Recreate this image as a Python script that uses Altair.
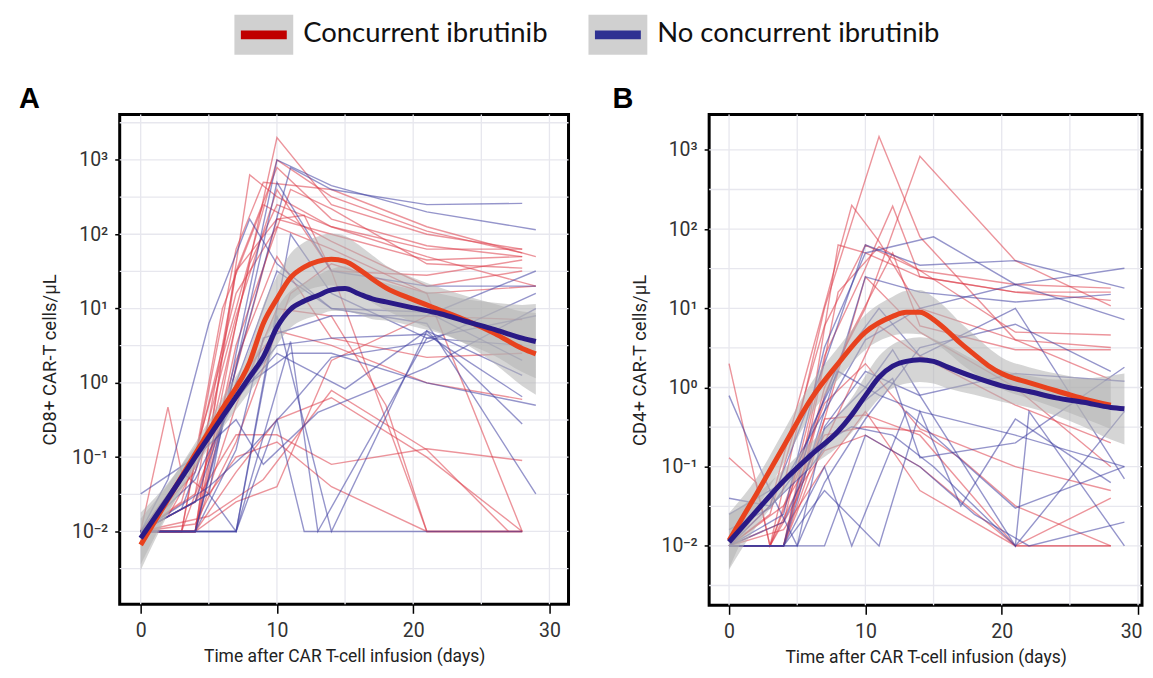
import altair as alt
import pandas as pd

GROUPS = ["Concurrent ibrutinib", "No concurrent ibrutinib"]
PANEL_LABELS = ["A", "B"]
LEGEND_COLORS = ["#c00000", "#2e3192"]
THIN_COLORS = ["#dc3c48", "#3e3ea0"]
SMOOTH_COLORS = ["#e8421e", "#2a1a86"]

X_TICKS = [0, 10, 20, 30]
X_GRID = [0, 5, 10, 15, 20, 25, 30]
Y_TICK_EXP = [-2, -1, 0, 1, 2, 3]
Y_GRID_EXP = [-2.5, -2, -1.5, -1, -0.5, 0, 0.5, 1, 1.5, 2, 2.5, 3, 3.5]

X_TITLE = "Time after CAR T-cell infusion (days)"
Y_TITLE_A = "CD8+ CAR-T cells/\u03bcL"
Y_TITLE_B = "CD4+ CAR-T cells/\u03bcL"

A_RED_LINES = [
    ([0, 4, 7, 10, 14, 21, 28], [0.01, 0.01, 6.3, 2000, 250, 100, 63]),
    ([0, 3, 7, 10, 14, 21, 28], [0.01, 0.025, 10, 1000, 320, 110, 56]),
    ([0, 4, 7, 10, 14, 21, 28], [0.01, 0.032, 32, 790, 160, 70, 50]),
    ([0, 4, 7, 11, 14, 21, 28], [0.01, 0.01, 3.2, 400, 220, 40, 35]),
    ([0, 3, 7, 9, 14, 21, 29], [0.01, 0.01, 63, 500, 400, 126, 50]),
    ([0, 4, 7, 10, 14, 21, 29], [0.01, 0.1, 16, 126, 63, 16, 20]),
    ([0, 4, 6, 10, 12, 14, 21, 28], [0.01, 0.01, 0.32, 160, 180, 32, 28, 45]),
    ([0, 2, 5, 8, 10, 14, 21, 28], [0.01, 0.016, 0.16, 40, 250, 126, 63, 63]),
    ([0, 4, 7, 10, 14, 21, 28], [0.01, 0.025, 0.2, 0.2, 0.08, 0.13, 0.09]),
    ([0, 4, 7, 10, 14, 21, 28], [0.01, 0.063, 7.9, 400, 32, 0.01, 0.01]),
    ([0, 4, 7, 10, 14, 18, 21, 28], [0.01, 0.01, 0.5, 10, 7.9, 0.5, 0.01, 0.01]),
    ([0, 2, 3, 5, 7, 10, 14, 21, 28], [0.01, 0.47, 0.063, 0.032, 0.1, 0.16, 0.04, 0.01, 0.01]),
    ([0, 4, 7, 10, 14, 21, 28], [0.01, 0.01, 0.025, 0.04, 2.0, 7.9, 7.1]),
    ([0, 4, 7, 11, 14, 21, 28], [0.01, 0.0126, 0.16, 16, 40, 16, 0.01]),
    ([0, 3, 6, 9, 14, 21, 28], [0.01, 0.01, 10, 250, 80, 20, 32]),
    ([0, 4, 8, 10, 14, 21, 29], [0.01, 0.01, 630, 320, 126, 50, 20]),
    ([0, 4, 7, 10, 14, 21, 28], [0.01, 0.025, 2.0, 50, 4, 2.2, 2.5]),
    ([0, 4, 7, 10, 14, 21, 28], [0.01, 0.01, 0.063, 0.32, 0.63, 0.1, 0.01]),
    ([0, 5, 9, 14, 21, 27], [0.01, 0.016, 0.05, 0.79, 0.126, 0.01]),
    ([0, 4, 7, 10, 14, 21, 28], [0.01, 0.01, 32, 160, 100, 45, 50]),
    ([0, 3, 7, 10, 14, 21, 28], [0.01, 0.01, 1.0, 5.0, 3.2, 1.0, 0.6]),
]
A_BLUE_LINES = [
    ([0, 5, 7, 10, 14, 21, 29], [0.01, 0.032, 2.5, 1000, 450, 200, 115]),
    ([0, 4, 7, 11, 14, 21, 28], [0.01, 0.01, 1.6, 790, 400, 250, 260]),
    ([0, 2, 5, 8, 10, 14, 21, 28], [0.01, 0.05, 6.3, 160, 40, 10, 9, 2]),
    ([0, 4, 7, 11, 13, 21, 29], [0.01, 0.01, 0.01, 3.6, 0.01, 4, 8]),
    ([0, 5, 7, 10, 14, 21, 28], [0.01, 0.032, 0.01, 8, 0.01, 5, 0.28]),
    ([0, 4, 7, 10, 15, 21, 28], [0.01, 0.05, 0.63, 2.5, 0.83, 5, 1.26]),
    ([0, 3, 7, 10, 12, 21, 28], [0.01, 0.01, 0.01, 0.32, 0.01, 0.01, 0.01]),
    ([0, 4, 7, 10, 14, 21, 29], [0.01, 0.025, 1.0, 32, 10, 6.3, 0.032]),
    ([0, 4, 7, 10, 14, 21, 28], [0.032, 0.1, 0.63, 3.2, 4, 4.5, 0.65]),
    ([0, 4, 6, 10, 14, 21, 29], [0.01, 0.01, 0.25, 500, 32, 20, 20]),
    ([0, 4, 7, 9, 13, 21, 29], [0.01, 0.1, 0.32, 0.08, 0.4, 1.6, 10]),
    ([0, 5, 8, 11, 14, 21, 29], [0.01, 0.04, 0.126, 0.5, 2.2, 3.5, 16]),
    ([0, 4, 7, 9, 14, 21, 29], [0.01, 0.01, 0.126, 4, 8, 8, 32]),
    ([0, 4, 7, 11, 14, 21, 28], [0.01, 0.01, 0.01, 100, 16, 4, 3.2]),
    ([0, 3, 5, 8, 11, 14, 21, 29], [0.01, 0.02, 0.2, 1, 2.5, 2.5, 1.0, 0.5]),
]

A_RED_DAYS = [0, 2, 4, 6, 8, 9, 10, 11, 12, 13, 14, 15, 16, 17, 18, 20, 22, 24, 26, 28, 29]
A_RED_MID = [0.0066, 0.027, 0.11, 0.45, 1.9, 6.3, 13.5, 26, 36, 43, 46, 43, 34, 25, 19, 13.2, 9.5, 6.8, 4.6, 2.9, 2.45]
A_RED_LO = [0.003, 0.017, 0.078, 0.32, 1.17, 3.5, 6.8, 12.6, 17, 19.5, 20.4, 19, 15.8, 12, 9.5, 6.6, 4.8, 3.2, 1.8, 0.91, 0.69]
A_RED_HI = [0.015, 0.043, 0.155, 0.63, 2.95, 11.2, 27, 55, 78, 93, 102, 95, 72, 52, 38, 26, 19, 14.5, 11.5, 9.1, 8.7]
A_BLUE_DAYS = [0, 2, 4, 6, 8, 9, 10, 11, 12, 13, 14, 15, 16, 17, 18, 20, 22, 24, 26, 28, 29]
A_BLUE_MID = [0.0081, 0.028, 0.1, 0.35, 1.2, 2.24, 5.6, 9.8, 12.6, 15, 17.8, 18.6, 15.8, 13.5, 12.3, 10.2, 8.5, 6.6, 5.2, 4.0, 3.6]
A_BLUE_LO = [0.0036, 0.018, 0.071, 0.245, 0.76, 1.35, 3.2, 5.5, 7.1, 8.1, 9.3, 9.3, 8.3, 7.2, 6.9, 5.75, 4.6, 3.3, 2.3, 1.4, 1.15]
A_BLUE_HI = [0.018, 0.045, 0.14, 0.49, 1.9, 3.7, 10, 17.4, 22.4, 28, 34, 37, 30, 25, 22, 18, 15.8, 13.2, 12, 11.2, 11.5]

B_RED_LINES = [
    ([0, 3, 7, 11, 12, 14, 21, 28], [0.01, 0.01, 10, 1480, 560, 80, 4, 1.26]),
    ([0, 4, 7, 10, 14, 21, 28], [0.01, 0.01, 1.0, 10, 830, 40, 10.7]),
    ([0, 3, 6, 9, 11, 14, 21, 28], [0.01, 0.032, 2.5, 200, 70, 10, 4, 3.2]),
    ([0, 4, 7, 10, 12, 14, 21, 28], [0.01, 0.01, 2.5, 32, 195, 25, 16, 12.6]),
    ([0, 3, 5, 7, 10, 14, 21, 28], [2.0, 0.01, 0.04, 0.4, 0.45, 0.25, 0.01, 0.01]),
    ([0, 2, 3, 5, 7, 10, 14, 21, 28], [0.13, 0.063, 0.01, 0.05, 0.16, 0.25, 0.1, 0.01, 0.01]),
    ([0, 4, 7, 10, 14, 17, 21, 28], [0.01, 0.032, 0.25, 0.32, 0.28, 0.126, 0.032, 0.01]),
    ([0, 4, 6, 8, 10, 14, 21, 28], [0.01, 0.02, 0.5, 63, 50, 25, 16, 16]),
    ([0, 3, 6, 8, 11, 14, 21, 28], [0.01, 0.01, 0.3, 16, 60, 30, 5, 4.6]),
    ([0, 4, 7, 9, 12, 14, 21, 28], [0.01, 0.01, 0.8, 5, 50, 6, 3, 3]),
    ([0, 4, 7, 10, 14, 21, 28], [0.01, 0.016, 0.1, 0.5, 0.05, 0.01, 0.04]),
    ([0, 3, 7, 10, 14, 21, 28], [0.01, 0.01, 0.63, 2.0, 0.3, 0.1, 0.05]),
    ([0, 4, 6, 10, 14, 21, 28], [0.01, 0.01, 0.1, 25, 5, 1, 0.1]),
    ([0, 3, 7, 10, 14, 21, 28], [0.01, 0.025, 6, 63, 30, 20, 18]),
    ([0, 4, 7, 11, 14, 21, 28], [0.01, 0.01, 0.2, 6, 2.5, 0.6, 0.2]),
]
B_BLUE_LINES = [
    ([0, 4, 7, 10, 15, 21, 29], [0.01, 0.025, 3.2, 50, 80, 20, 32]),
    ([0, 3, 7, 10, 14, 21, 29], [0.01, 0.032, 2.0, 63, 35, 40, 18]),
    ([0, 4, 7, 10, 14, 21, 29], [0.025, 0.063, 0.5, 4, 10, 20, 7.2]),
    ([0, 5, 8, 11, 14, 21, 29], [0.01, 0.1, 2, 10, 2.5, 10, 0.07]),
    ([0, 4, 7, 11, 14, 17, 21, 28], [0.01, 0.01, 0.05, 0.01, 0.5, 0.032, 0.4, 0.063]),
    ([0, 5, 7, 10, 14, 21, 22, 29], [0.01, 0.01, 0.32, 1.6, 0.79, 0.01, 0.5, 0.01]),
    ([0, 4, 7, 10, 14, 18, 22, 29], [0.01, 0.01, 0.01, 0.25, 0.1, 0.025, 0.01, 0.02]),
    ([0, 3, 5, 7, 10, 14, 21, 28], [0.79, 0.05, 0.01, 0.063, 0.4, 3.2, 6.3, 1.6]),
    ([0, 3, 6, 9, 12, 14, 21, 29], [0.04, 0.032, 0.1, 0.5, 1.3, 0.13, 0.2, 1.8]),
    ([0, 4, 7, 9, 13, 21, 29], [0.01, 0.01, 0.1, 0.01, 0.5, 0.03, 0.1]),
    ([0, 4, 7, 10, 14, 21, 28], [0.01, 0.01, 0.5, 25, 16, 12, 15]),
    ([0, 4, 7, 10, 12, 14, 21, 29], [0.01, 0.02, 0.3, 1.0, 3, 0.8, 1.5, 1.2]),
    ([0, 3, 6, 9, 12, 15, 21, 29], [0.016, 0.03, 0.16, 0.32, 0.25, 0.1, 0.01, 0.5]),
    ([0, 4, 6, 8, 11, 14, 21, 29], [0.01, 0.01, 0.3, 1.6, 0.8, 0.5, 0.25, 0.1]),
]

B_RED_DAYS = [0, 2, 4, 6, 8, 10, 12, 13, 14, 15, 16, 17, 18, 19, 20, 22, 24, 26, 28]
B_RED_MID = [0.0117, 0.045, 0.18, 0.71, 2.0, 5.0, 7.9, 8.9, 8.9, 7.2, 5.2, 3.6, 2.6, 1.9, 1.5, 1.15, 0.91, 0.72, 0.6]
B_RED_LO = [0.0052, 0.028, 0.11, 0.45, 1.26, 3.0, 4.5, 4.8, 4.7, 3.8, 2.8, 2.0, 1.5, 1.15, 0.95, 0.72, 0.55, 0.41, 0.3]
B_RED_HI = [0.026, 0.071, 0.28, 1.12, 3.2, 8.3, 14, 16.6, 17, 13.8, 9.8, 6.5, 4.6, 3.2, 2.4, 1.8, 1.5, 1.3, 1.2]
B_BLUE_DAYS = [0, 2, 4, 6, 8, 9, 10, 11, 12, 13, 14, 15, 16, 18, 20, 22, 24, 26, 28, 29]
B_BLUE_MID = [0.0112, 0.0275, 0.066, 0.14, 0.28, 0.45, 0.79, 1.35, 1.86, 2.14, 2.24, 2.14, 1.82, 1.35, 1.05, 0.89, 0.74, 0.65, 0.56, 0.54]
B_BLUE_LO = [0.005, 0.0174, 0.047, 0.1, 0.18, 0.27, 0.45, 0.72, 0.98, 1.12, 1.17, 1.12, 0.98, 0.81, 0.66, 0.56, 0.44, 0.32, 0.22, 0.19]
B_BLUE_HI = [0.025, 0.044, 0.093, 0.2, 0.45, 0.74, 1.41, 2.5, 3.5, 4.1, 4.3, 4.1, 3.4, 2.24, 1.66, 1.41, 1.26, 1.29, 1.41, 1.5]

FONT_N = "Roboto, DejaVu Sans, sans-serif"
Y_LABEL_EXPR = ("datum.value < -1.5 ? '10\u207b\u00b2' : datum.value < -0.5 ? '10\u207b\u00b9' : "
                "datum.value < 0.5 ? '10\u2070' : datum.value < 1.5 ? '10\u00b9' : "
                "datum.value < 2.5 ? '10\u00b2' : '10\u00b3'")

BOX_SHAPE = "M-1,-0.678H1V0.678H-1Z"
BAR_SHAPE = "M-0.78,-0.15H0.78V0.15H-0.78Z"
LEGEND_CX = [144.5, 499.5]


def thin_frame(red_lines, blue_lines):
    rows = []
    for g, lines in zip(GROUPS, (red_lines, blue_lines)):
        for i, (days, vals) in enumerate(lines):
            for d, v in zip(days, vals):
                rows.append({"pid": f"{g}-{i}", "group": g, "day": d, "value": v})
    return pd.DataFrame(rows)


def smooth_frame(red, blue):
    rows = []
    for g, (days, mid, lo, hi) in zip(GROUPS, (red, blue)):
        for d, m, l, h in zip(days, mid, lo, hi):
            rows.append({"group": g, "day": d, "mid": m, "lo": l, "hi": h})
    return pd.DataFrame(rows)


def legend_layers():
    out = []
    for g, col, cx in zip(GROUPS, LEGEND_COLORS, LEGEND_CX):
        leg = alt.Chart(pd.DataFrame({"group": [g]}))
        out.append(leg.mark_point(shape=BOX_SHAPE, size=59 * 59, filled=True, color="#d0d0d0",
                                  opacity=1).encode(x=alt.value(cx), y=alt.value(-80)))
        out.append(leg.mark_point(shape=BAR_SHAPE, size=59 * 59, filled=True, color=col,
                                  opacity=1).encode(x=alt.value(cx), y=alt.value(-80)))
        out.append(leg.mark_text(align="left", baseline="middle", font="Lato", fontSize=27.5,
                                 color="#111").encode(x=alt.value(cx + 39.5), y=alt.value(-81),
                                                      text="group:N"))
    return out


def panel(label, label_dx, ytitle, thin, smooth, xdomain, ydomain, width, height, with_legend, flush):
    xs = alt.Scale(domain=xdomain, nice=False, zero=False)
    ys = alt.Scale(domain=ydomain, nice=False, zero=False)  # log10 of cells/uL
    if flush:
        x_axis = alt.Axis(
            values=X_TICKS, grid=False, domain=False,
            tickColor="black", tickWidth=1.5, tickSize=9,
            labelFont=FONT_N, labelFontSize=19.5, labelColor="#333", labelPadding=8,
            labelFlush=8, labelFlushOffset=4,
            title=X_TITLE, titleFont=FONT_N, titleFontSize=17.5, titleFontWeight="normal",
            titleColor="#222", titlePadding=8)
    else:
        x_axis = alt.Axis(
            values=X_TICKS, grid=False, domain=False,
            tickColor="black", tickWidth=1.5, tickSize=9,
            labelFont=FONT_N, labelFontSize=19.5, labelColor="#333", labelPadding=8,
            title=X_TITLE, titleFont=FONT_N, titleFontSize=17.5, titleFontWeight="normal",
            titleColor="#222", titlePadding=8)
    y_axis = alt.Axis(
        values=Y_TICK_EXP, labelExpr=Y_LABEL_EXPR, grid=False, domain=False,
        tickColor="black", tickWidth=1.5, tickSize=5,
        labelFont=FONT_N, labelFontSize=19.5, labelColor="#333", labelPadding=7,
        title=ytitle, titleFont=FONT_N, titleFontSize=18.5, titleFontWeight="normal",
        titleColor="#222", titlePadding=12)

    grid_x = alt.Chart(pd.DataFrame({"gx": X_GRID})).mark_rule(
        color="#e7e7ee", strokeWidth=1.3
    ).encode(x=alt.X("gx:Q", scale=xs, axis=x_axis))
    grid_y = alt.Chart(pd.DataFrame({"gy": [v for v in Y_GRID_EXP if ydomain[0] < v < ydomain[1]]})).mark_rule(
        color="#e7e7ee", strokeWidth=1.3
    ).encode(y=alt.Y("gy:Q", scale=ys, axis=y_axis))
    thin_l = alt.Chart(thin).transform_calculate(
        lv="log(datum.value) / LN10"
    ).mark_line(strokeWidth=1.4, opacity=0.55).encode(
        x=alt.X("day:Q", scale=xs, axis=x_axis),
        y=alt.Y("lv:Q", scale=ys, axis=y_axis),
        stroke=alt.Stroke("group:N", scale=alt.Scale(domain=GROUPS, range=THIN_COLORS), legend=None),
        detail="pid:N",
    )
    smooth_t = alt.Chart(smooth).transform_calculate(
        lmid="log(datum.mid) / LN10", llo="log(datum.lo) / LN10", lhi="log(datum.hi) / LN10"
    )
    band = smooth_t.mark_area(color="#b2b2b2", opacity=0.55, interpolate="monotone").encode(
        x=alt.X("day:Q", scale=xs, axis=x_axis),
        y=alt.Y("llo:Q", scale=ys, axis=y_axis),
        y2="lhi:Q",
        detail="group:N",
    )
    smooth_l = smooth_t.mark_line(strokeWidth=5, interpolate="monotone").encode(
        x=alt.X("day:Q", scale=xs, axis=x_axis),
        y=alt.Y("lmid:Q", scale=ys, axis=y_axis),
        color=alt.Color("group:N", scale=alt.Scale(domain=GROUPS, range=SMOOTH_COLORS), legend=None),
    )
    tag = alt.Chart(pd.DataFrame({"tag": [label]})).mark_text(
        align="left", baseline="alphabetic", font="Liberation Sans, Arial, sans-serif",
        fontSize=29, fontWeight="bold", color="black"
    ).encode(x=alt.value(label_dx), y=alt.value(-7), text="tag:N")
    layers = [grid_x, grid_y, thin_l, band, smooth_l, tag]
    if with_legend:
        layers += legend_layers()
    return alt.layer(*layers).properties(width=width, height=height)


thin_a = thin_frame(A_RED_LINES, A_BLUE_LINES)
thin_b = thin_frame(B_RED_LINES, B_BLUE_LINES)
smooth_a = smooth_frame((A_RED_DAYS, A_RED_MID, A_RED_LO, A_RED_HI),
                        (A_BLUE_DAYS, A_BLUE_MID, A_BLUE_LO, A_BLUE_HI))
smooth_b = smooth_frame((B_RED_DAYS, B_RED_MID, B_RED_LO, B_RED_HI),
                        (B_BLUE_DAYS, B_BLUE_MID, B_BLUE_LO, B_BLUE_HI))

panel_a = panel(PANEL_LABELS[0], -101, Y_TITLE_A, thin_a, smooth_a, [-1.54, 31.4], [-2.98, 3.61], 450, 491, True, False)
panel_b = panel(PANEL_LABELS[1], -97, Y_TITLE_B, thin_b, smooth_b, [-1.46, 30.29], [-2.75, 3.446], 434, 492, False, True)

chart = alt.hconcat(panel_a, panel_b, spacing=141, bounds="flush").properties(
    padding={"left": 9, "top": 4, "right": 0, "bottom": 0},
    background="white",
).configure_view(stroke="black", strokeWidth=3)

chart.save("out.html", embed_options={"renderer": "svg", "actions": False})
